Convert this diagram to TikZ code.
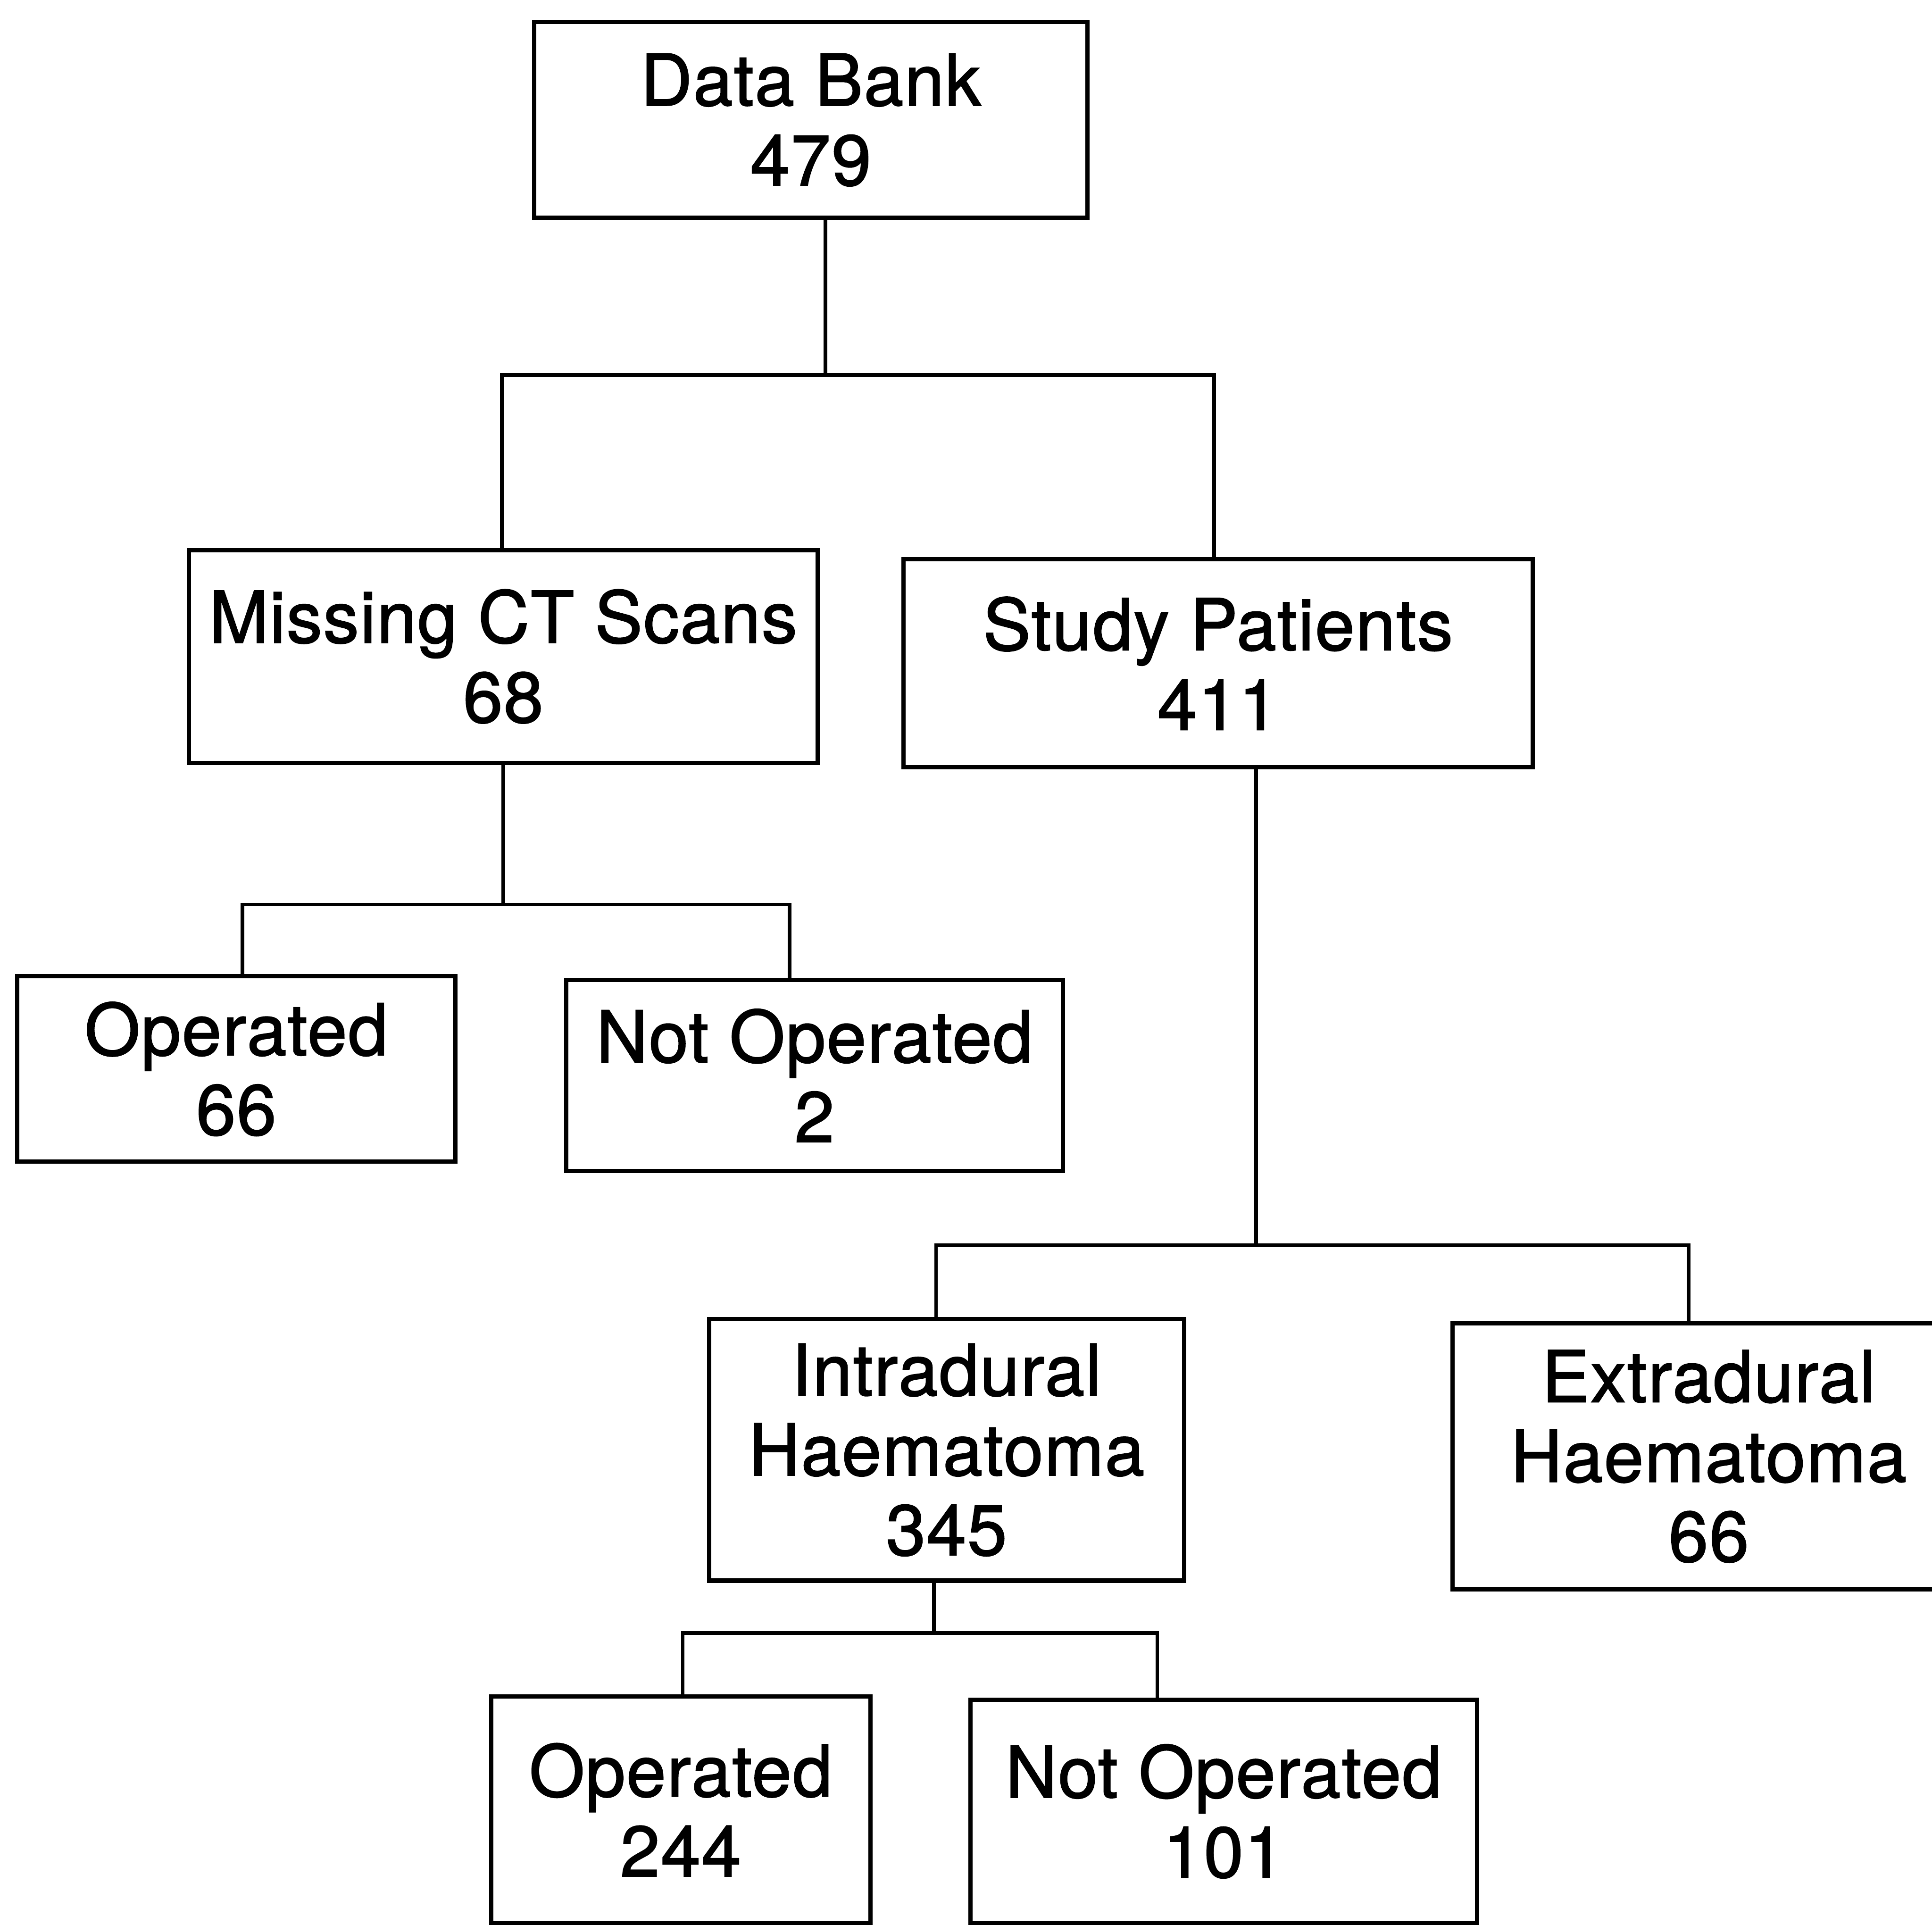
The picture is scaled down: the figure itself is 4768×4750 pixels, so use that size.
\documentclass[tikz,border=0pt]{standalone}
\usepackage{fontspec}
\setmainfont{TeX Gyre Heros}
\newfontfamily\boxfont{TeX Gyre Heros}[FakeBold=1.5,LetterSpace=1.5]
\begin{document}
\begin{tikzpicture}[x=0.01cm,y=-0.01cm,
  box/.style={draw=black, line width=3pt, rectangle, inner sep=0pt, align=center,
    font=\boxfont\fontsize{50}{56}\selectfont},
  conn/.style={draw=black, line width=2.6pt}]
\useasboundingbox[fill=white] (0,0) rectangle (4768,4750);

% boxes
\node[box, minimum width=13.64cm, minimum height=4.83cm] (db) at (2001,296) {Data Bank\\479};
\node[box, minimum width=15.51cm, minimum height=5.25cm] (mis) at (1242,1620) {Missing CT Scans\\68};
\node[box, minimum width=15.52cm, minimum height=5.13cm] (stu) at (3006,1637) {Study Patients\\411};
\node[box, minimum width=10.80cm, minimum height=4.57cm] (op1) at (583,2638) {Operated\\66};
\node[box, minimum width=12.25cm, minimum height=4.72cm] (nop1) at (2010,2654) {Not Operated\\2};
\node[box, minimum width=11.72cm, minimum height=6.45cm] (intra) at (2336,3578) {Intradural\\Haematoma\\345};
\node[box, minimum width=12.64cm, minimum height=6.56cm] (extra) at (4217,3594) {Extradural\\Haematoma\\66};
\node[box, minimum width=9.35cm, minimum height=5.58cm] (op2) at (1680,4466) {Operated\\244};
\node[box, minimum width=12.50cm, minimum height=5.50cm] (nop2) at (3020,4470) {Not Operated\\101};

% junction coordinates
\coordinate (b1) at (2037,925);
\coordinate (b1l) at (1239,925);
\coordinate (b1r) at (2996,925);
\coordinate (b2) at (1242,2232);
\coordinate (b2l) at (598,2232);
\coordinate (b2r) at (1949,2232);
\coordinate (b3) at (3100,3073);
\coordinate (b3l) at (2310,3073);
\coordinate (b3r) at (4167,3073);
\coordinate (b4) at (2305,4030);
\coordinate (b4l) at (1685,4030);
\coordinate (b4r) at (2856,4030);

% connectors
\draw[conn] (db.south -| b1) -- (b1);
\draw[conn] (mis.north -| b1l) -- (b1l) -- (b1r) -- (stu.north -| b1r);
\draw[conn] (mis.south -| b2) -- (b2);
\draw[conn] (op1.north -| b2l) -- (b2l) -- (b2r) -- (nop1.north -| b2r);
\draw[conn] (stu.south -| b3) -- (b3);
\draw[conn] (intra.north -| b3l) -- (b3l) -- (b3r) -- (extra.north -| b3r);
\draw[conn] (intra.south -| b4) -- (b4);
\draw[conn] (op2.north -| b4l) -- (b4l) -- (b4r) -- (nop2.north -| b4r);
\end{tikzpicture}
\end{document}
